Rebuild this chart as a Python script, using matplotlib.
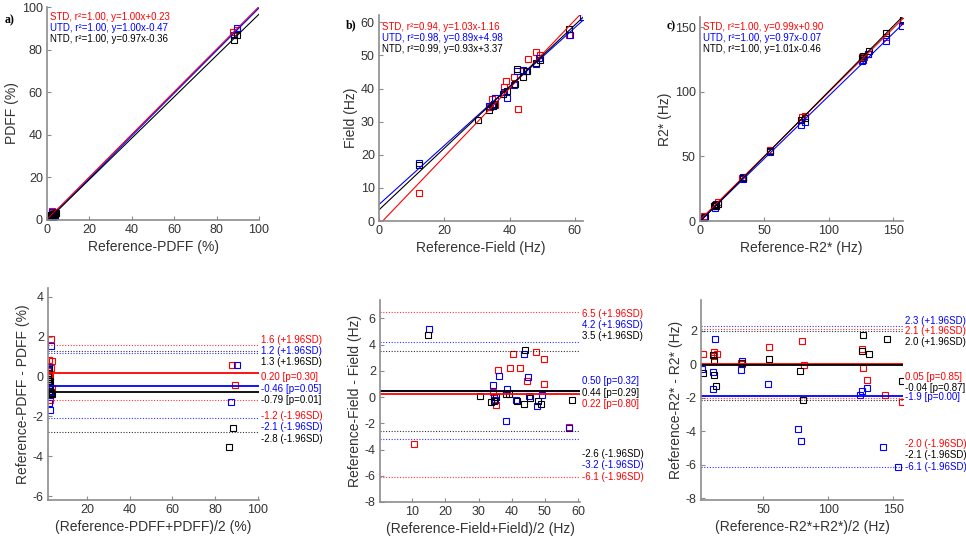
import numpy as np
import matplotlib.pyplot as plt

plt.rcParams['font.family'] = ['Liberation Sans', 'DejaVu Sans']
plt.rcParams['axes.unicode_minus'] = False

methods = ['STD', 'UTD', 'NTD']
colors = ['red', 'blue', 'black']

# Bland-Altman mean and difference (measured - reference) per subject
pdff_mean_std = [3.3, 2.1, 3.6, 2.6, 2.2, 1.9, 3.6, 2.9, 2.4, 2.0, 3.0, 87.8, 89.2, 2.5]
pdff_diff_std = [1.89, 0.81, 0.76, 0.0, -0.1, 0.3, -0.58, -1.17, 0.1, -0.2, 0.45, 0.59, -0.41, -0.1]
pdff_mean_utd = [3.2, 2.0, 2.4, 2.1, 2.9, 2.3, 2.6, 1.9, 3.0, 2.2, 2.8, 90.0, 87.4, 2.5]
pdff_diff_utd = [1.52, 0.34, 0.5, -1.34, -1.67, -0.6, -0.9, -0.3, -0.75, -0.5, -0.95, 0.59, -1.29, -0.2]
pdff_mean_ntd = [2.0, 2.3, 2.6, 2.9, 3.3, 1.9, 2.4, 3.6, 2.2, 2.7, 3.1, 88.3, 86.3, 2.5]
pdff_diff_ntd = [0.2, 0.4, -0.2, -0.5, -0.9, -0.1, -0.7, -0.85, -0.4, -0.6, -0.8, -2.59, -3.52, -0.3]

field_mean_std = [10.4, 34.3, 35.3, 35.8, 39.4, 40.5, 42.5, 44.6, 47.2, 49.7, 49.7, 57.2, 38.1]
field_diff_std = [-3.6, 0.4, -0.6, 2.1, 2.25, 3.3, 2.25, 1.25, 3.4, 2.9, 0.97, -2.3, -8.7]
field_mean_utd = [14.9, 34.3, 34.6, 35.0, 36.3, 38.2, 38.6, 41.3, 43.8, 44.8, 45.2, 47.7, 49.1, 57.2, 62.0]
field_diff_utd = [5.2, 0.9, 0.0, -0.2, 1.6, -1.85, 0.65, -0.2, 3.25, 1.55, 0.05, -0.7, 0.15, -2.35, -1.0]
field_mean_ntd = [14.6, 30.3, 33.6, 34.8, 35.2, 38.2, 39.2, 41.5, 43.8, 44.0, 45.4, 48.0, 48.9, 58.2]
field_diff_ntd = [4.7, 0.1, -0.4, -0.3, 0.0, 0.25, 0.25, -0.3, -0.5, 3.6, -0.1, -0.3, -0.55, -0.2]

r2s_mean_std = [3.8, 12.3, 14.6, 12.0, 33.6, 33.0, 54.6, 79.5, 81.5, 126.2, 127.0, 130.0, 143.6, 156.4]
r2s_diff_std = [0.65, 0.75, 0.65, 0.5, 0.0, 0.1, 1.05, 1.38, -0.05, 0.93, -0.2, -0.95, -1.84, -2.27]
r2s_mean_utd = [2.6, 11.0, 11.5, 12.8, 32.9, 33.6, 53.8, 76.5, 78.8, 124.5, 125.8, 130.0, 141.8, 153.8]
r2s_diff_utd = [-0.3, -1.48, -0.44, 1.49, -0.35, 0.2, -1.14, -3.87, -4.57, -1.84, -1.6, -1.38, -4.96, -6.15]
r2s_mean_ntd = [3.3, 11.5, 12.0, 12.3, 13.6, 33.5, 54.4, 78.5, 80.5, 126.0, 127.0, 131.2, 144.9, 157.0]
r2s_diff_ntd = [-0.54, 0.55, 0.29, -0.64, -1.3, 0.1, 0.35, -0.39, -2.14, 0.82, 1.78, 0.65, 1.49, -0.99]

# regression results (STD, UTD, NTD)
pdff_r2 = [1.00, 1.00, 1.00]
pdff_slope = [1.00, 1.00, 0.97]
pdff_icpt = [0.23, -0.47, -0.36]
field_r2 = [0.94, 0.98, 0.99]
field_slope = [1.03, 0.89, 0.93]
field_icpt = [-1.16, 4.98, 3.37]
r2s_r2 = [1.00, 1.00, 1.00]
r2s_slope = [0.99, 0.97, 1.01]
r2s_icpt = [0.90, -0.07, -0.46]

# Bland-Altman bias, p-value and limits of agreement (STD, UTD, NTD)
pdff_bias = [0.20, -0.46, -0.79]
pdff_p = [0.30, 0.05, 0.01]
pdff_upper = [1.6, 1.2, 1.3]
pdff_lower = [-1.2, -2.1, -2.8]
field_bias = [0.22, 0.50, 0.44]
field_p = [0.80, 0.32, 0.29]
field_upper = [6.5, 4.2, 3.5]
field_lower = [-6.1, -3.2, -2.6]
r2s_bias = [0.05, -1.9, -0.04]
r2s_p = [0.85, 0.00, 0.87]
r2s_upper = [2.1, 2.3, 2.0]
r2s_lower = [-2.0, -6.1, -2.1]

W, H = 966.0, 546.0


def px_axes(fig, left, top, right, bottom):
    return fig.add_axes([left / W, 1 - bottom / H, (right - left) / W, (bottom - top) / H])


def style_axes(ax):
    for side in ['top', 'right']:
        ax.spines[side].set_visible(False)
    for side in ['left', 'bottom']:
        ax.spines[side].set_color('0.55')
        ax.spines[side].set_linewidth(1.2)
    ax.tick_params(direction='in', length=3, width=0.8, color='0.55',
                   labelsize=9, labelcolor='0.2', pad=3)


def fmt(v):
    return '%.1f' % v if abs(v) >= 1 else '%.2f' % v


def scatter_panel(ax, means, diffs, r2, slope, icpt, xlim, ylim, ticks,
                  xlabel, ylabel, text_x, text_y):
    for m, d, c in zip(means, diffs, colors):
        m = np.array(m)
        d = np.array(d)
        ax.plot(m - d / 2, m + d / 2, 's', mfc='none', mec=c, ms=5, mew=0.8)
    xs = np.array([0, xlim[1]])
    for k, c in enumerate(colors):
        ax.plot(xs, slope[k] * xs + icpt[k], color=c, lw=0.8)
        ax.text(text_x, text_y[k],
                '%s, r\u00b2=%.2f, y=%.2fx%+.2f' % (methods[k], r2[k], slope[k], icpt[k]),
                transform=ax.transAxes, color=c, fontsize=7, va='center', ha='left')
    ax.set_xlim(xlim)
    ax.set_ylim(ylim)
    ax.set_xticks(ticks)
    ax.set_yticks(ticks)
    ax.set_xlabel(xlabel, fontsize=10, color='0.2', labelpad=3)
    ax.set_ylabel(ylabel, fontsize=10, color='0.2', labelpad=2)
    style_axes(ax)


def ba_panel(ax, means, diffs, bias, pval, upper, lower, xlim, ylim, xticks, yticks,
             xlabel, ylabel, up_y, bias_y, low_y):
    for m, d, c in zip(means, diffs, colors):
        ax.plot(m, d, 's', mfc='none', mec=c, ms=5, mew=0.8)
    tr = ax.get_yaxis_transform()
    for k, c in enumerate(colors):
        ax.axhline(bias[k], color=c, lw=1.3)
        ax.axhline(upper[k], color=c, ls=(0, (1, 1.5)), lw=0.8, alpha=0.8)
        ax.axhline(lower[k], color=c, ls=(0, (1, 1.5)), lw=0.8, alpha=0.8)
        ax.text(1.01, up_y[k], fmt(upper[k]) + ' (+1.96SD)', transform=tr,
                color=c, fontsize=7, va='center', ha='left')
        ax.text(1.01, bias_y[k], fmt(bias[k]) + ' [p=%.2f]' % pval[k], transform=tr,
                color=c, fontsize=7, va='center', ha='left')
        ax.text(1.01, low_y[k], fmt(lower[k]) + ' (-1.96SD)', transform=tr,
                color=c, fontsize=7, va='center', ha='left')
    ax.set_xlim(xlim)
    ax.set_ylim(ylim)
    ax.set_xticks(xticks)
    ax.set_yticks(yticks)
    ax.set_xlabel(xlabel, fontsize=10, color='0.2', labelpad=3)
    ax.set_ylabel(ylabel, fontsize=10, color='0.2', labelpad=2)
    style_axes(ax)


fig = plt.figure(figsize=(W / 100, H / 100), dpi=100)

ax = px_axes(fig, 47, 7, 259, 220)
scatter_panel(ax, [pdff_mean_std, pdff_mean_utd, pdff_mean_ntd],
              [pdff_diff_std, pdff_diff_utd, pdff_diff_ntd],
              pdff_r2, pdff_slope, pdff_icpt, (0, 100), (0, 100), range(0, 101, 20),
              'Reference-PDFF (%)', 'PDFF (%)', 0.014, [0.955, 0.902, 0.849])

ax = px_axes(fig, 379, 15, 583, 221)
scatter_panel(ax, [field_mean_std, field_mean_utd, field_mean_ntd],
              [field_diff_std, field_diff_utd, field_diff_ntd],
              field_r2, field_slope, field_icpt, (0, 62.5), (0, 62.2), range(0, 61, 20),
              'Reference-Field (Hz)', 'Field (Hz)', 0.015, [0.944, 0.890, 0.836])
ax.set_yticks(range(0, 61, 10))

ax = px_axes(fig, 700, 17, 903, 221)
scatter_panel(ax, [r2s_mean_std, r2s_mean_utd, r2s_mean_ntd],
              [r2s_diff_std, r2s_diff_utd, r2s_diff_ntd],
              r2s_r2, r2s_slope, r2s_icpt, (0, 157.5), (0, 158), range(0, 151, 50),
              'Reference-R2* (Hz)', 'R2* (Hz)', 0.015, [0.953, 0.899, 0.845])

ax = px_axes(fig, 48, 288, 259, 500)
ba_panel(ax, [pdff_mean_std, pdff_mean_utd, pdff_mean_ntd],
         [pdff_diff_std, pdff_diff_utd, pdff_diff_ntd],
         pdff_bias, pdff_p, pdff_upper, pdff_lower, (1.8, 100.5), (-6.2, 4.45),
         range(20, 101, 20), range(-6, 5, 2),
         '(Reference-PDFF+PDFF)/2 (%)', 'Reference-PDFF - PDFF (%)',
         [1.84, 1.29, 0.73], [-0.02, -0.62, -1.18], [-1.98, -2.53, -3.13])

ax = px_axes(fig, 380, 300, 580, 502)
ba_panel(ax, [field_mean_std, field_mean_utd, field_mean_ntd],
         [field_diff_std, field_diff_utd, field_diff_ntd],
         field_bias, field_p, field_upper, field_lower, (0.25, 60.6), (-8, 7.4),
         range(10, 61, 10), range(-8, 7, 2),
         '(Reference-Field+Field)/2 (Hz)', 'Reference-Field - Field (Hz)',
         [6.36, 5.47, 4.63], [-0.54, 1.21, 0.32], [-6.08, -5.19, -4.35])

ax = px_axes(fig, 701, 300, 903, 500)
ba_panel(ax, [r2s_mean_std, r2s_mean_utd, r2s_mean_ntd],
         [r2s_diff_std, r2s_diff_utd, r2s_diff_ntd],
         r2s_bias, r2s_p, r2s_upper, r2s_lower, (2.1, 157.4), (-8.1, 3.85),
         range(50, 151, 50), range(-8, 3, 2),
         '(Reference-R2*+R2*)/2 (Hz)', 'Reference-R2* - R2* (Hz)',
         [2.0, 2.6, 1.36], [-0.78, -1.97, -1.38], [-4.75, -6.1, -5.4])

for letter, x, y in [('a)', 10, 20), ('b)', 351, 25), ('c)', 671, 26)]:
    fig.text(x / W, 1 - y / H, letter, fontsize=8.5, fontweight='bold',
             family='Liberation Serif', ha='center', va='center')

fig.savefig('out.png', dpi=100)
